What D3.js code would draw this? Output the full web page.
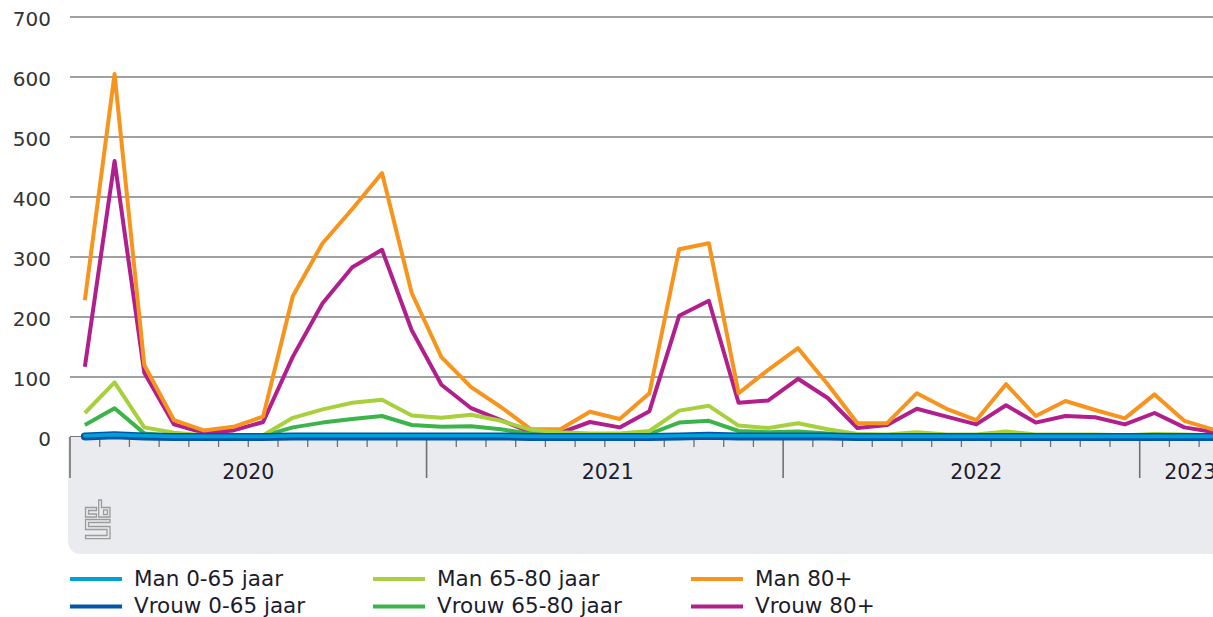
<!DOCTYPE html>
<html lang="nl">
<head>
    <meta charset="UTF-8">
    <title>Sterfte per maand</title>
    <script src="https://d3js.org/d3.v7.min.js"></script>
    <style>
        body {
            margin: 0;
            background: #ffffff;
        }

        text {
            font-family: "DejaVu Sans", sans-serif;
        }

        .tick-label {
            font-size: 20px;
            fill: #333333;
        }

        .year-label {
            font-size: 20.5px;
            fill: #1c1c2c;
        }

        .legend-label {
            font-size: 21.5px;
            fill: #1c1c2c;
        }
    </style>
</head>

<body>
<div id="fig"></div>
<script>
    // one value per month, starting jan 2020
    let man_0_65 = [2, 4, 2, 1, 1, 1, 1, 2, 2, 2, 2, 2, 2, 2, 2, 1, 1, 1, 1, 1, 2, 3, 2, 2, 2, 2, 1, 1, 1, 1, 1, 1, 1, 1, 1, 1, 1, 1, 1]
    let man_65_80 = [40, 91, 16, 7, 3, 2, 3, 32, 46, 57, 62, 36, 32, 37, 27, 12, 8, 6, 6, 10, 44, 52, 19, 15, 23, 13, 5, 4, 8, 4, 4, 9, 4, 4, 4, 3, 5, 4, 3]
    let man_80 = [228, 605, 120, 28, 11, 17, 34, 235, 323, 380, 440, 240, 133, 83, 50, 13, 13, 42, 30, 73, 313, 323, 73, 112, 148, 88, 23, 23, 73, 47, 28, 88, 35, 60, 45, 31, 71, 27, 12]
    let vrouw_0_65 = [1, 3, 1, 0, 0, 0, 0, 1, 1, 1, 1, 1, 1, 1, 1, 0, 0, 0, 0, 0, 1, 2, 1, 1, 1, 1, 0, 0, 0, 0, 0, 0, 0, 0, 0, 0, 0, 0, 0]
    let vrouw_65_80 = [20, 48, 6, 2, 2, 2, 2, 16, 24, 30, 35, 20, 17, 18, 13, 5, 4, 4, 4, 5, 24, 27, 10, 8, 9, 6, 4, 3, 4, 3, 3, 4, 3, 3, 3, 3, 3, 3, 2]
    let vrouw_80 = [117, 460, 107, 21, 7, 11, 25, 134, 223, 283, 312, 178, 87, 48, 28, 8, 7, 25, 16, 43, 202, 227, 57, 61, 97, 65, 15, 20, 47, 34, 21, 53, 24, 35, 33, 21, 40, 16, 8]

    let y_ticks = [0, 100, 200, 300, 400, 500, 600, 700]
    let years = ["2020", "2021", "2022", "2023"]
    let year_label_month = [6, 18.1, 30.5, 37.7]   // where the year label sits, in months from jan 2020

    let series = [
        {name: "Man 0-65 jaar", values: man_0_65, color: "#00a0d8", width: 3.6},
        {name: "Man 65-80 jaar", values: man_65_80, color: "#a8cf3c", width: 4},
        {name: "Man 80+", values: man_80, color: "#f7941d", width: 4},
        {name: "Vrouw 0-65 jaar", values: vrouw_0_65, color: "#0056a8", width: 8},
        {name: "Vrouw 65-80 jaar", values: vrouw_65_80, color: "#3cb44a", width: 4},
        {name: "Vrouw 80+", values: vrouw_80, color: "#b01f8c", width: 4}
    ]
    // drawing order: women under men, young groups last
    let draw_order = [5, 2, 4, 1, 3, 0]

    let W = 1213, H = 617
    let n_months = man_80.length

    let svg = d3.select("#fig").append("svg")
        .attr("width", W)
        .attr("height", H)

    let x = d3.scaleLinear().domain([0, 36]).range([70, 1139.7])
    let y = d3.scaleLinear().domain([0, 700]).range([437, 17])

    //////////////////////// grey band under the axis
    let bx = 68, by = y(0), bw = W + 20 - bx, bh = 554 - by, r = 14
    svg.append("path")
        .attr("d", `M${bx},${by} H${bx + bw} V${by + bh} H${bx + r} Q${bx},${by + bh} ${bx},${by + bh - r} Z`)
        .attr("fill", "#eaebee")

    //////////////////////// gridlines + y labels
    svg.append("g").selectAll("line")
        .data(y_ticks.filter(d => d > 0))
        .join("line")
        .attr("x1", 70).attr("x2", W)
        .attr("y1", d => y(d)).attr("y2", d => y(d))
        .attr("stroke", "#808080")
        .attr("stroke-width", 1.3)

    svg.append("g").selectAll("text")
        .data(y_ticks)
        .join("text")
        .attr("class", "tick-label")
        .attr("x", 51)
        .attr("y", d => y(d) + 9)
        .attr("text-anchor", "end")
        .text(d => d)

    //////////////////////// x axis: month ticks, long ticks at year starts
    let month_ticks = d3.range(0, n_months + 1)
    svg.append("line")
        .attr("x1", 70).attr("x2", W)
        .attr("y1", y(0) - 0.5).attr("y2", y(0) - 0.5)
        .attr("stroke", "#777777")
        .attr("stroke-width", 1.2)

    svg.append("g").selectAll("line")
        .data(month_ticks)
        .join("line")
        .attr("x1", d => x(d)).attr("x2", d => x(d))
        .attr("y1", y(0))
        .attr("y2", d => d % 12 === 0 ? 478 : 447)
        .attr("stroke", "#707070")
        .attr("stroke-width", d => d % 12 === 0 ? 1.6 : 1.3)

    svg.append("g").selectAll("text")
        .data(years)
        .join("text")
        .attr("class", "year-label")
        .attr("x", (d, i) => x(year_label_month[i]))
        .attr("y", 479)
        .attr("text-anchor", "middle")
        .text(d => d)

    //////////////////////// lines
    let line = d3.line()
        .x((d, i) => x(i + 0.5))
        .y(d => y(d))

    draw_order.forEach(function (k) {
        let s = series[k]
        svg.append("path")
            .datum(s.values)
            .attr("d", line)
            .attr("fill", "none")
            .attr("stroke", s.color)
            .attr("stroke-width", s.width)
            .attr("stroke-linecap", s.width > 4 || k === 0 ? "round" : "butt")
            .attr("stroke-linejoin", "round")
    })

    //////////////////////// cbs logo
    let logo = svg.append("g")
        .attr("fill", "none")
        .attr("stroke", "#9b9b9b")
        .attr("stroke-width", 1.3)
    logo.append("path").attr("d", "M96.5,507.5 H85.5 V517 H96.5 V514 H88.5 V510.5 H96.5 Z")
    logo.append("path").attr("d", "M98.7,500 H101.5 V507.5 H110 V517 H98.7 Z")
    logo.append("rect").attr("x", 103.5).attr("y", 510).attr("width", 4).attr("height", 4.5)
    logo.append("path").attr("d", "M110,519.5 H85.5 V529.5 H107 V535.5 H85.5 V538.7 H110 V526.5 H88.5 V522.5 H110 Z")

    //////////////////////// legend (3 columns, 2 rows)
    let leg_x = [70, 373, 691]
    let leg_y = [579, 606.5]
    let legend = svg.append("g")
    series.forEach(function (s, i) {
        let col = i % 3, row = Math.floor(i / 3)
        legend.append("line")
            .attr("x1", leg_x[col]).attr("x2", leg_x[col] + 52)
            .attr("y1", leg_y[row]).attr("y2", leg_y[row])
            .attr("stroke", s.color)
            .attr("stroke-width", 4)
        legend.append("text")
            .attr("class", "legend-label")
            .attr("x", leg_x[col] + 64)
            .attr("y", leg_y[row] + 6.5)
            .text(s.name)
    })
</script>
</body>
</html>
